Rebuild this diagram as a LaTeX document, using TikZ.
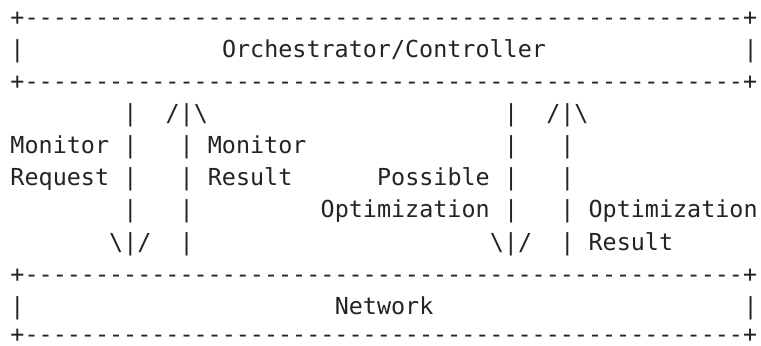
\documentclass[tikz,border=0pt]{standalone}
\usepackage{fontspec}
\setmonofont{DejaVu Sans Mono}
\definecolor{ink}{RGB}{35,35,40}
\newcommand\dashline{+---------------------------------------------------+}
\newcommand\bs{\textbackslash}
\begin{document}
\begin{tikzpicture}[x=0.5pt,y=-0.5pt,
  tok/.style={inner sep=0pt,outer sep=0pt,anchor=mid west,text=ink,
    font=\ttfamily\fontsize{11.7pt}{12pt}\selectfont},
  rule/.style={tok,text depth=0pt}]
\useasboundingbox (0,0) rectangle (761,345);
% column c -> x = 10.5 + 14.1*c ; row r -> y = 21 + 32.1*r
\def\cx#1{10.5+14.1*#1}
\def\ry#1{21+32.1*#1}
% top box
\node[rule] (topA) at ({\cx{0}},{\ry{0}}) {\dashline};
\node[tok] (topL) at ({\cx{0}},{\ry{1}}) {|};
\node[tok] (orch) at ({\cx{15}},{\ry{1}}) {Orchestrator/Controller};
\node[tok] (topR) at ({\cx{52}},{\ry{1}}) {|};
\node[rule] (topB) at ({\cx{0}},{\ry{2}}) {\dashline};
% row 3
\node[tok] (a3) at ({\cx{8}},{\ry{3}}) {|};
\node[tok] (b3) at ({\cx{11}},{\ry{3}}) {/|\bs};
\node[tok] (c3) at ({\cx{35}},{\ry{3}}) {|};
\node[tok] (d3) at ({\cx{38}},{\ry{3}}) {/|\bs};
% row 4
\node[tok] (monreq1) at ({\cx{0}},{\ry{4}}) {Monitor};
\node[tok] (a4) at ({\cx{8}},{\ry{4}}) {|};
\node[tok] (b4) at ({\cx{12}},{\ry{4}}) {|};
\node[tok] (monres1) at ({\cx{14}},{\ry{4}}) {Monitor};
\node[tok] (c4) at ({\cx{35}},{\ry{4}}) {|};
\node[tok] (d4) at ({\cx{39}},{\ry{4}}) {|};
% row 5
\node[tok] (monreq2) at ({\cx{0}},{\ry{5}}) {Request};
\node[tok] (a5) at ({\cx{8}},{\ry{5}}) {|};
\node[tok] (b5) at ({\cx{12}},{\ry{5}}) {|};
\node[tok] (monres2) at ({\cx{14}},{\ry{5}}) {Result};
\node[tok] (posopt1) at ({\cx{26}},{\ry{5}}) {Possible};
\node[tok] (c5) at ({\cx{35}},{\ry{5}}) {|};
\node[tok] (d5) at ({\cx{39}},{\ry{5}}) {|};
% row 6
\node[tok] (a6) at ({\cx{8}},{\ry{6}}) {|};
\node[tok] (b6) at ({\cx{12}},{\ry{6}}) {|};
\node[tok] (posopt2) at ({\cx{22}},{\ry{6}}) {Optimization};
\node[tok] (c6) at ({\cx{35}},{\ry{6}}) {|};
\node[tok] (d6) at ({\cx{39}},{\ry{6}}) {|};
\node[tok] (optres1) at ({\cx{41}},{\ry{6}}) {Optimization};
% row 7
\node[tok] (a7) at ({\cx{7}},{\ry{7}}) {\bs|/};
\node[tok] (b7) at ({\cx{12}},{\ry{7}}) {|};
\node[tok] (c7) at ({\cx{34}},{\ry{7}}) {\bs|/};
\node[tok] (d7) at ({\cx{39}},{\ry{7}}) {|};
\node[tok] (optres2) at ({\cx{41}},{\ry{7}}) {Result};
% bottom box
\node[rule] (botA) at ({\cx{0}},{\ry{8}}) {\dashline};
\node[tok] (botL) at ({\cx{0}},{\ry{9}}) {|};
\node[tok] (net) at ({\cx{23}},{\ry{9}}) {Network};
\node[tok] (botR) at ({\cx{52}},{\ry{9}}) {|};
\node[rule] (botB) at ({\cx{0}},338) {\dashline};
\end{tikzpicture}
\end{document}
